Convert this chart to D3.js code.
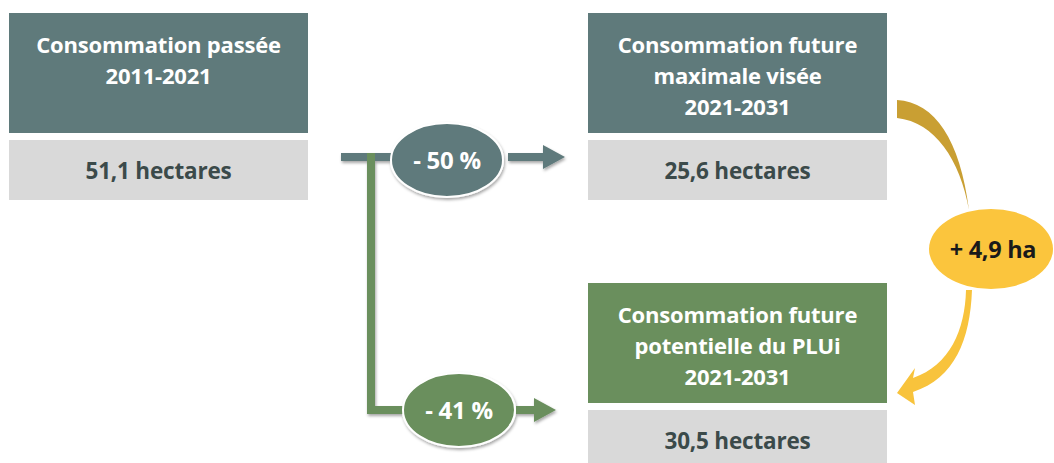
<!DOCTYPE html>
<html>
<head>
<meta charset="utf-8">
<script src="https://cdn.jsdelivr.net/npm/d3@7"></script>
<style>
  body { margin: 0; background: #fff; }
  svg { display: block; font-family: "Open Sans", Lato, sans-serif; font-weight: bold; }
</style>
</head>
<body>
<svg width="1054" height="463"></svg>
<script>
// contenu du schéma
const titres = [
    ["Consommation passée", "2011-2021"],
    ["Consommation future", "maximale visée", "2021-2031"],
    ["Consommation future", "potentielle du PLUi", "2021-2031"]
];
const hectares = [51.1, 25.6, 30.5];
const baisses = [-50, -41];
const ecart = 4.9;

const fmt = (v) => d3.format(".1f")(v).replace(".", ",");

const slate = "#5f7a7b", green = "#6a8f5d", grey = "#d9d9d9", dark = "#3b4a4a";
const svg = d3.select("svg");

// ombre légère
const defs = svg.append("defs");
const f = defs.append("filter").attr("id", "ombre").attr("x", "-20%").attr("y", "-20%").attr("width", "140%").attr("height", "160%");
f.append("feDropShadow").attr("dx", 1).attr("dy", 2).attr("stdDeviation", 1.5).attr("flood-opacity", 0.35);

// position des blocs
const blocs = [
    { x: 9, y: 13, couleur: slate },
    { x: 588, y: 13, couleur: slate },
    { x: 588, y: 283, couleur: green }
];
const w = 299, hTitre = 120, hVal = 60;

blocs.forEach((b, i) => {
    svg.append("rect").attr("x", b.x).attr("y", b.y).attr("width", w).attr("height", hTitre).attr("fill", b.couleur);
    svg.append("rect").attr("x", b.x).attr("y", b.y + hTitre + 7).attr("width", w).attr("height", hVal).attr("fill", grey);

    const t = svg.append("text").attr("text-anchor", "middle").attr("fill", "#fff")
        .attr("font-size", 22).attr("letter-spacing", -0.2);
    titres[i].forEach((l, k) => {
        t.append("tspan").attr("x", b.x + w / 2).attr("y", b.y + 40 + k * 31).text(l);
    });
    svg.append("text").attr("x", b.x + w / 2).attr("y", b.y + hTitre + 7 + 39)
        .attr("text-anchor", "middle").attr("fill", dark).attr("font-size", 22.5).attr("letter-spacing", -0.2)
        .text(fmt(hectares[i]) + " hectares");
});

// flèches de réduction
const g = svg.append("g").attr("filter", "url(#ombre)");

// ligne verte (derrière)
const line = d3.line();
g.append("path").attr("d", line([[371, 157], [371, 410], [405, 410]]))
    .attr("fill", "none").attr("stroke", green).attr("stroke-width", 8);
g.append("path").attr("d", line([[341, 157], [395, 157]]))
    .attr("stroke", slate).attr("stroke-width", 8);
g.append("path").attr("d", line([[371, 153], [371, 165]]))
    .attr("stroke", green).attr("stroke-width", 8);

function fleche(x0, x1, y, c) {
    g.append("path").attr("d", line([[x0, y], [x1 - 20, y]])).attr("stroke", c).attr("stroke-width", 8);
    g.append("path").attr("d", line([[x1 - 22, y - 12], [x1, y], [x1 - 22, y + 12]]) + "Z").attr("fill", c);
}
fleche(508, 565, 157, slate);
fleche(516, 556, 410, green);

const ell = [
    { cx: 447, cy: 160, c: slate, v: baisses[0] },
    { cx: 459, cy: 410, c: green, v: baisses[1] }
];
ell.forEach((e) => {
    g.append("ellipse").attr("cx", e.cx).attr("cy", e.cy).attr("rx", 56).attr("ry", 37)
        .attr("fill", e.c).attr("stroke", "#fff").attr("stroke-width", 2);
    svg.append("text").attr("x", e.cx).attr("y", e.cy + 9).attr("text-anchor", "middle")
        .attr("fill", "#fff").attr("font-size", 24).attr("letter-spacing", -0.3)
        .text("- " + Math.abs(e.v) + " %");
});

// flèches dorées
svg.append("path")
    .attr("d", "M897,100 C935,102 960,140 969,210 C960,160 935,122 897,118 Z")
    .attr("fill", "#c99f33");
svg.append("path")
    .attr("d", "M966,290 C965,330 950,365 913,378 L915,368 L897,393 L915,405 L913,392 C955,378 970,340 972,290 Z")
    .attr("fill", "#f8c33c");
svg.append("ellipse").attr("cx", 991).attr("cy", 249).attr("rx", 62).attr("ry", 40).attr("fill", "#fbc53d");
svg.append("text").attr("x", 993).attr("y", 258).attr("text-anchor", "middle")
    .attr("fill", "#1a1a1a").attr("font-size", 23.5).attr("letter-spacing", -0.3)
    .text("+ " + fmt(ecart) + " ha");
</script>
</body>
</html>
